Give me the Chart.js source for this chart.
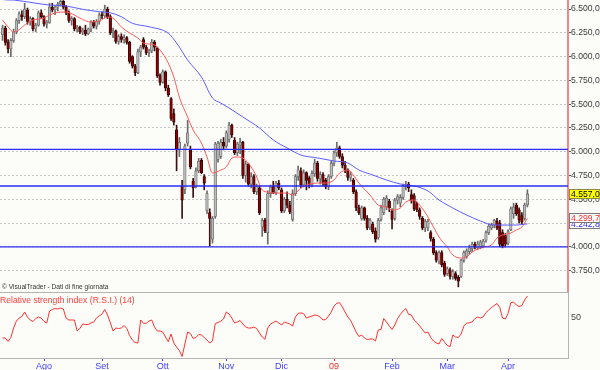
<!DOCTYPE html>
<html>
<head>
<meta charset="utf-8">
<script src="https://cdn.jsdelivr.net/npm/chart.js@4.4.1/dist/chart.umd.min.js"></script>
<style>
  html, body { margin: 0; padding: 0; background: #fcfdf9; }
  #wrap { position: relative; width: 600px; height: 370px; overflow: hidden; font-family: 'Liberation Sans', Arial, sans-serif; }
  #mainChart { position: absolute; left: 0; top: 0; }
  #rsiChart { position: absolute; left: 0; top: 292px; }
  .note { position: absolute; white-space: nowrap; line-height: 1; }
  #credit { left: 2px; top: 284px; font-size: 6.6px; color: #333; }
  #rsiTitle { left: 0; top: 296px; font-size: 8.6px; color: #ff3b3b; }
</style>
</head>
<body>
<div id="wrap">
  <canvas id="mainChart" width="600" height="292"></canvas>
  <canvas id="rsiChart" width="600" height="78"></canvas>
  <div class="note" id="credit">© VisualTrader - Dati di fine giornata</div>
  <div class="note" id="rsiTitle">Relative strength index (R.S.I.) (14)</div>
</div>
<script>
// Mesi sull'asse orizzontale (indice della prima seduta del mese)
const monthLabels = ['Ago', 'Set', 'Ott', 'Nov', 'Dic', '09', 'Feb', 'Mar', 'Apr'];
const monthIdx = [15, 36, 58, 81, 101, 120, 141, 161, 183];

// Etichette dell'asse prezzi
const priceTicks = [3750, 4000, 4250, 4500, 4750, 5000, 5250, 5500, 5750, 6000, 6250, 6500];

// Livelli orizzontali tracciati sul grafico
const levels = [5025, 4640, 4000];

// Candele giornaliere
const openP = [
  6230,6300,6150,6080,6170,6260,6380,6440,6420,6490,
  6370,6400,6290,6330,6460,6420,6340,6360,6520,6490,
  6520,6550,6580,6520,6460,6380,6400,6290,6310,6260,
  6280,6240,6290,6360,6320,6370,6440,6430,6500,6420,
  6250,6270,6160,6210,6180,6200,6150,6000,5900,5830,
  6050,6180,6100,6040,6060,6150,6090,5800,5730,5840,
  5670,5560,5400,5230,5020,4640,4600,5090,5020,4690,
  4640,4800,4910,4740,4380,4360,4080,4320,4920,4950,
  5100,5060,5130,5280,5120,4990,5070,5100,4750,4870,
  4660,4740,4580,4620,4210,4280,4150,4560,4640,4570,
  4670,4600,4380,4500,4440,4290,4560,4740,4800,4650,
  4780,4720,4650,4770,4880,4720,4760,4700,4630,4740,
  4880,4990,5040,4950,4860,4810,4730,4700,4580,4410,
  4300,4410,4300,4210,4240,4170,4100,4290,4360,4420,
  4480,4380,4300,4490,4460,4520,4640,4660,4550,4540,
  4450,4390,4300,4200,4200,4150,4080,3940,3850,3940,
  3830,3720,3760,3690,3720,3680,3690,3860,3900,3950,
  3980,4030,3990,4000,4010,4070,4150,4200,4230,4270,
  4250,4150,4120,4040,4180,4350,4440,4390,4330,4300,
  4440
];
const highP = [
  6330,6320,6180,6190,6290,6400,6470,6480,6560,6510,
  6420,6410,6350,6480,6490,6430,6380,6560,6560,6540,
  6570,6600,6590,6540,6480,6420,6410,6330,6320,6300,
  6330,6300,6380,6380,6390,6460,6470,6540,6520,6440,
  6300,6280,6230,6240,6230,6210,6160,6010,5920,6080,
  6120,6200,6120,6080,6180,6170,6100,5820,5860,5850,
  5700,5570,5450,5280,5150,4700,5080,5330,5060,4720,
  4830,4930,4930,4760,4590,4400,4320,5100,5110,5130,
  5150,5220,5310,5290,5150,5100,5140,5110,4900,4880,
  4780,4760,4660,4640,4300,4300,4590,4650,4690,4690,
  4700,4620,4520,4580,4480,4600,4760,4850,4830,4810,
  4790,4740,4800,4920,4900,4790,4780,4720,4760,4900,
  5010,5100,5060,4980,4900,4820,4790,4720,4600,4440,
  4430,4420,4330,4300,4260,4200,4300,4440,4520,4540,
  4500,4400,4510,4550,4550,4660,4690,4680,4600,4560,
  4470,4410,4320,4290,4290,4170,4100,3960,3960,3960,
  3850,3790,3780,3760,3740,3700,3870,3960,3980,4020,
  4050,4050,4060,4070,4080,4170,4240,4250,4290,4300,
  4280,4180,4140,4180,4420,4460,4460,4410,4360,4460,
  4600
];
const lowP = [
  6170,6120,6040,6000,6150,6240,6350,6380,6400,6340,
  6330,6270,6260,6320,6400,6320,6300,6350,6470,6440,
  6480,6530,6500,6440,6360,6330,6270,6260,6240,6230,
  6220,6230,6260,6300,6290,6340,6400,6410,6400,6230,
  6200,6140,6130,6150,6140,6130,5930,5880,5800,5820,
  6000,6080,6020,6000,6040,6060,5780,5700,5720,5640,
  5580,5330,5280,4800,4950,4300,4560,5060,4820,4520,
  4620,4780,4770,4600,4350,4010,4040,4300,4890,4930,
  5020,5040,5100,5150,4970,4960,4980,4720,4680,4640,
  4620,4560,4550,4340,4110,4150,4030,4520,4560,4550,
  4600,4360,4360,4410,4350,4270,4540,4700,4620,4630,
  4600,4620,4630,4740,4690,4660,4640,4610,4600,4720,
  4850,4950,4930,4830,4780,4700,4690,4560,4380,4340,
  4280,4280,4180,4180,4140,4050,4080,4270,4340,4390,
  4370,4190,4280,4450,4420,4500,4600,4580,4460,4380,
  4370,4290,4180,4160,4170,4060,3920,3840,3820,3790,
  3690,3700,3660,3660,3650,3580,3680,3840,3880,3920,
  3950,3980,3970,3980,3990,4050,4130,4180,4200,4180,
  4000,3990,4000,4020,4170,4300,4330,4250,4240,4280,
  4420
];
const closeP = [
  6300,6150,6080,6170,6260,6380,6450,6420,6500,6370,
  6400,6290,6330,6460,6420,6340,6360,6520,6490,6520,
  6550,6580,6520,6460,6380,6400,6290,6310,6260,6280,
  6240,6290,6360,6320,6370,6440,6430,6500,6420,6250,
  6270,6160,6210,6180,6200,6150,5950,5900,5830,6050,
  6100,6100,6040,6060,6150,6100,5800,5730,5840,5670,
  5600,5350,5310,5020,5100,4490,5060,5200,4840,4620,
  4800,4900,4780,4670,4560,4300,4300,5080,5090,5100,
  5060,5200,5280,5180,4990,5080,5100,4750,4870,4660,
  4740,4580,4640,4360,4280,4170,4560,4630,4570,4670,
  4620,4380,4500,4440,4370,4560,4740,4810,4650,4780,
  4700,4650,4770,4880,4720,4760,4670,4630,4740,4880,
  4990,5040,4950,4860,4810,4730,4760,4580,4410,4360,
  4410,4300,4200,4280,4160,4080,4280,4410,4500,4510,
  4410,4290,4490,4530,4520,4640,4660,4620,4490,4400,
  4390,4320,4200,4270,4270,4090,3940,3860,3940,3810,
  3710,3770,3690,3740,3670,3640,3860,3940,3960,3990,
  4030,4000,4030,4050,4060,4150,4220,4230,4280,4200,
  4030,4010,4030,4160,4400,4420,4350,4280,4260,4440,
  4557
];

// Media mobile breve (rossa), letta per punti
const redIdx = [0,2,4,9,11,15,17,21,23,26,28,32,35,38,40,43,46,49,51,55,57,60,62,64,67,69,72,74,76,79,81,83,85,87,90,92,94,96,99,103,105,108,110,114,117,120,122,125,127,129,133,136,139,141,144,146,149,151,154,156,158,161,163,166,168,170,174,177,179,181,184,186,188,190];
const redVal = [6384,6311,6258,6353,6384,6405,6437,6468,6468,6437,6405,6363,6374,6416,6405,6311,6248,6195,6143,6122,6069,5932,5785,5575,5365,5228,5092,4945,4776,4808,4840,4934,4945,4934,4840,4734,4598,4577,4566,4566,4545,4619,4650,4671,4671,4703,4776,4808,4755,4671,4545,4440,4419,4388,4409,4472,4493,4440,4314,4209,4104,3998,3915,3883,3893,3946,3998,4020,4093,4125,4146,4178,4209,4299.7];

// Media mobile lunga (blu), letta per punti
const blueIdx = [0,4,11,17,23,29,35,39,43,47,53,60,63,67,72,76,79,82,87,93,98,103,108,114,120,125,129,134,139,144,149,154,158,163,168,173,178,183,186,190];
const blueVal = [6600,6595,6566,6542,6532,6497,6472,6461,6419,6350,6314,6245,6143,5964,5785,5565,5512,5460,5365,5250,5124,5040,4966,4935,4903,4882,4808,4756,4703,4661,4640,4588,4493,4409,4335,4272,4230,4230,4230,4242.8];

// RSI (14) giornaliero
const rsiVal = [
  30,30,26.5,30.5,40,47,50,51.5,56,51,
  48,46.5,49.5,51,50,46.5,45,57,58.5,59.5,
  59,60,59,50,48,48,48,37,39.5,44,
  43.5,43.5,45,46,50,52,54,58.5,53,45.5,
  37,40,39.5,40,42.5,39.5,32.5,28,25.5,25,
  48,44.7,44.7,47,48,41,37,37,36,31,
  26.3,34,25,21,17.5,11.5,24,36,34.5,29.5,
  30.5,33.5,33,30.5,28,25,27,44.5,45.5,46.8,
  49,56,54,50,45,46,47.5,44,41,40,
  40,41,39.5,35,31,28.7,40,44,45.5,47,
  45,43,46,45,44,42,51,54.7,55,54.5,
  50,51,52,53,52.5,51,48,48.5,52,56,
  62,64.7,65.3,61,56,51,47.5,42,36,31.5,
  33,30,28.5,29,29,27,38,38.5,49.5,46,
  42,38.5,43,49.5,53.5,57,59.5,53.5,53,48,
  45.5,42,38.5,35,36,30.5,27,25,24,29.5,
  26,22.5,21.3,33,31,30.5,34,42,44.8,45.3,
  46,49.5,51,50,51,55.5,58,60.5,62.5,64.5,
  60.5,50,49,54.5,65.3,66,63,61.5,62.5,68,
  72
];

const X_MIN = -0.93, X_MAX = 204.7;
const FONT = "'Liberation Sans', Arial, sans-serif";

// Formato italiano: 6.500,0
function fmtIt(v) {
    const parts = Number(v).toFixed(1).split('.');
    return parts[0].replace(/\B(?=(\d{3})+(?!\d))/g, '.') + ',' + parts[1];
}

const days = closeP.map((_, i) => i);
const isUp = days.map(i => closeP[i] >= openP[i]);

// Etichette dell'ultimo valore a destra (medie e chiusura)
const lastBadges = {
    id: 'lastBadges',
    afterDraw(chart) {
        const { ctx, chartArea } = chart;
        const y = chart.scales.y;
        const items = [
            { v: blueVal[blueVal.length - 1], fg: '#2a2aff', bg: '#ffffff', bd: '#7a7a7a' },
            { v: redVal[redVal.length - 1], fg: '#ff2a2a', bg: '#ffffff', bd: '#7a7a7a' },
            { v: closeP[closeP.length - 1], fg: '#000000', bg: '#ffff00', bd: '#8c8c40' }
        ];
        const left = chartArea.right + 1.5;
        const w = chart.width - left;
        ctx.save();
        ctx.font = '8.6px ' + FONT;
        ctx.textBaseline = 'middle';
        items.forEach(it => {
            const py = Math.round(y.getPixelForValue(it.v));
            ctx.fillStyle = it.bg;
            ctx.fillRect(left, py - 4.5, w, 9);
            ctx.strokeStyle = it.bd;
            ctx.lineWidth = 1;
            ctx.strokeRect(left, py - 4.5, w, 9);
            ctx.fillStyle = it.fg;
            ctx.fillText(fmtIt(it.v), left + 1.5, py + 0.5);
        });
        ctx.restore();
    }
};

new Chart(document.getElementById('mainChart'), {
    type: 'bar',
    data: {
        datasets: [
            ...levels.map(v => ({
                type: 'line',
                data: [{ x: X_MIN, y: v }, { x: X_MAX, y: v }],
                borderColor: '#2b2bf5',
                borderWidth: 1.3,
                pointRadius: 0,
                order: 1
            })),
            {
                type: 'line',
                data: blueIdx.map((x, k) => ({ x: x, y: blueVal[k] })),
                borderColor: '#5c5cff',
                borderWidth: 1,
                pointRadius: 0,
                cubicInterpolationMode: 'monotone',
                order: 1
            },
            {
                type: 'line',
                data: redIdx.map((x, k) => ({ x: x, y: redVal[k] })),
                borderColor: '#ff5a5a',
                borderWidth: 1,
                pointRadius: 0,
                cubicInterpolationMode: 'monotone',
                order: 1
            },
            {
                data: days.map(i => ({ x: i, y: [openP[i], closeP[i]] })),
                backgroundColor: days.map(i => isUp[i] ? '#bcbcbc' : '#8e0000'),
                borderColor: days.map(i => isUp[i] ? '#6c6c6c' : '#2a0000'),
                borderWidth: 0.8,
                borderSkipped: false,
                barThickness: 2.6,
                minBarLength: 1,
                grouped: false,
                order: 2
            },
            {
                data: days.map(i => ({ x: i, y: [lowP[i], highP[i]] })),
                backgroundColor: days.map(i => isUp[i] ? '#6a6a6a' : '#3a1010'),
                borderWidth: 0,
                barThickness: 1,
                grouped: false,
                order: 3
            }
        ]
    },
    options: {
        animation: false,
        responsive: false,
        events: [],
        layout: { padding: 0 },
        plugins: { legend: { display: false }, tooltip: { enabled: false } },
        scales: {
            x: { type: 'linear', min: X_MIN, max: X_MAX, display: false, offset: false },
            y: {
                type: 'linear',
                position: 'right',
                min: 3526,
                max: 6595,
                afterBuildTicks: s => { s.ticks = priceTicks.map(v => ({ value: v })); },
                afterFit: s => { s.width = 32; s.paddingTop = 0; s.paddingBottom = 0; },
                ticks: { callback: v => fmtIt(v), color: '#3a3a3a', font: { family: FONT, size: 8.6 }, padding: 0 },
                grid: { color: '#c8c8c8', lineWidth: 1, tickLength: 3, tickColor: '#555555' },
                border: { display: true, color: '#f08a8a', width: 2, dash: [2, 2] }
            }
        }
    },
    plugins: [lastBadges]
});

// Bordo superiore del pannello RSI
const panelTop = {
    id: 'panelTop',
    afterDraw(chart) {
        const { ctx, chartArea } = chart;
        ctx.save();
        ctx.strokeStyle = '#b4b4b4';
        ctx.lineWidth = 1;
        ctx.beginPath();
        ctx.moveTo(chartArea.left, chartArea.top + 0.5);
        ctx.lineTo(chartArea.right, chartArea.top + 0.5);
        ctx.stroke();
        ctx.restore();
    }
};

const tickTone = c => monthLabels[c.index] === '09' ? '#ff2a2a' : '#3c3cff';

new Chart(document.getElementById('rsiChart'), {
    type: 'line',
    data: {
        datasets: [{
            data: rsiVal.map((v, i) => ({ x: i, y: v })),
            borderColor: '#ff3030',
            borderWidth: 1,
            pointRadius: 0
        }]
    },
    options: {
        animation: false,
        responsive: false,
        events: [],
        layout: { padding: 0 },
        plugins: { legend: { display: false }, tooltip: { enabled: false } },
        scales: {
            x: {
                type: 'linear',
                min: X_MIN,
                max: X_MAX,
                afterBuildTicks: s => { s.ticks = monthIdx.map(v => ({ value: v })); },
                afterFit: s => { s.height = 12; s.paddingLeft = 0; s.paddingRight = 0; },
                ticks: {
                    autoSkip: false,
                    maxRotation: 0,
                    padding: 0,
                    callback: (v, i) => monthLabels[i],
                    color: tickTone,
                    font: { family: FONT, size: 9 }
                },
                grid: { drawOnChartArea: false, tickLength: 3, tickColor: tickTone },
                border: { color: '#b4b4b4' }
            },
            y: {
                position: 'right',
                min: 10,
                max: 76,
                afterBuildTicks: s => { s.ticks = [{ value: 50 }]; },
                afterFit: s => { s.width = 32; s.paddingTop = 0; s.paddingBottom = 0; },
                ticks: { color: '#444444', font: { family: FONT, size: 9 }, padding: 3 },
                grid: { drawOnChartArea: false, drawTicks: false },
                border: { color: '#b4b4b4' }
            }
        }
    },
    plugins: [panelTop]
});
</script>
</body>
</html>
